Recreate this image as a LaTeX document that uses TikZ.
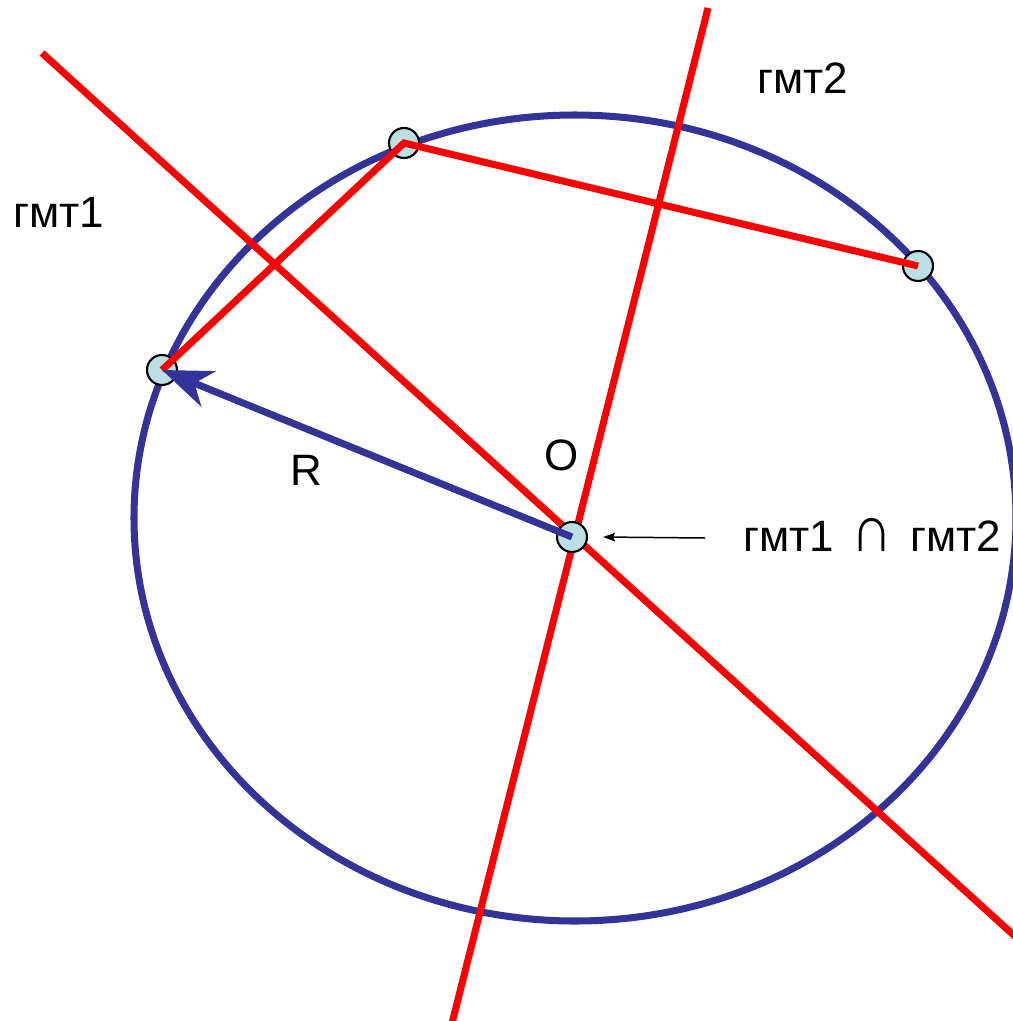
\documentclass[tikz,border=0pt]{standalone}
\usepackage{fontspec}
\usepackage{graphicx}
\setmainfont{Liberation Sans}
\usetikzlibrary{arrows.meta}
\definecolor{ringblue}{RGB}{51,51,153}
\definecolor{gmtred}{RGB}{255,0,0}
\definecolor{ptfill}{RGB}{187,224,227}
\tikzset{
  ring/.style  = {draw=ringblue, line width=4pt},
  gmt/.style   = {draw=gmtred, line width=4pt},
  chord/.style = {gmt, line join=miter},
  rvec/.style  = {draw=ringblue, line width=4pt,
                  -{Stealth[length=10mm, width=7.6mm, inset=3mm]}},
  vtx/.style   = {circle, draw=black, line width=1.2pt, fill=ptfill,
                  minimum size=0.6cm, inner sep=0pt},
  lbl/.style   = {font=\fontsize{25}{30}\selectfont, inner sep=0pt},
  ptr/.style   = {draw=black, line width=0.85pt,
                  -{Stealth[length=2.4mm, width=1.7mm, inset=0.4mm]}},
}
\newcommand{\capsign}{\hspace{0.4em}\scalebox{1.3}[1.5]{∩}\hspace{0.4em}}

\begin{document}
\begin{tikzpicture}[x=0.02cm, y=-0.02cm]
  \useasboundingbox (0,0) rectangle (1013,1021);
  \clip (0,0) rectangle (1013,1021);
  % circle through the three points
  \draw[ring] (575,518) ellipse [x radius=441, y radius=403];
  % the two loci
  \coordinate (g1a) at (42,53);
  \coordinate (g1b) at (1040,959);
  \coordinate (g2a) at (708,8);
  \coordinate (g2b) at (449,1035);
  \draw[gmt] (g1a) -- (g1b);
  \draw[gmt] (g2a) -- (g2b);
  % points
  \node[vtx] (A) at (404,143) {};
  \node[vtx] (B) at (918,266) {};
  \node[vtx] (C) at (162,370) {};
  \node[vtx] (O) at (572,537) {};
  \draw[chord] (C.center) -- (A.center) -- (B.center);
  \draw[rvec] (O.center) -- (C.center);
  % labels
  \node[lbl, anchor=base] (g1) at (59,227) {гмт1};
  \node[lbl, anchor=base] (g2) at (803,93) {гмт2};
  \node[lbl, anchor=base] (rlab) at (306,485) {R};
  \node[lbl, anchor=base] (olab) at (562,470) {O};
  \node[lbl, anchor=base west] (isect) at (743,551) {гмт1\capsign гмт2};
  \draw[ptr] ([xshift=-0.76cm, yshift=0.26cm]isect.base west) -- ([xshift=0.3cm]O.east);
\end{tikzpicture}
\end{document}
